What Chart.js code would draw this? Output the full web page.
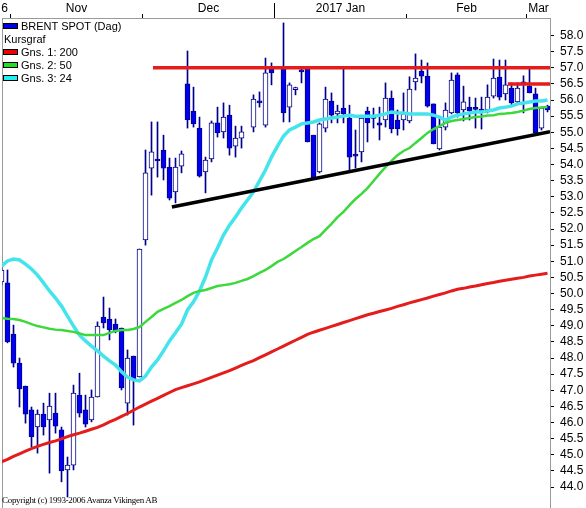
<!DOCTYPE html>
<html><head><meta charset="utf-8">
<script src="https://cdn.jsdelivr.net/npm/chart.js@4.4.1/dist/chart.umd.min.js"></script>
<style>
html,body{margin:0;padding:0;background:#fff;}
#wrap{position:relative;width:586px;height:508px;overflow:hidden;background:#fff;}
canvas{position:absolute;left:0;top:0;}
#legend{position:absolute;left:3px;top:19px;font:11px 'Liberation Sans',Arial,sans-serif;color:#000;}
.row{height:13px;display:flex;align-items:center;white-space:nowrap;}
.sw{width:13px;height:4px;border:1px solid #000;margin-right:3px;}
#copy{position:absolute;left:2px;top:495px;font:9px 'Liberation Serif','Times New Roman',serif;letter-spacing:-0.3px;color:#000;white-space:nowrap;}
</style></head><body>
<div id="wrap"><canvas id="c" width="586" height="508"></canvas>
<div id="legend">
<div class="row"><span class="sw" style="background:#0000e8"></span>BRENT SPOT (Dag)</div>
<div class="row" style="padding-left:1px">Kursgraf</div>
<div class="row"><span class="sw" style="background:#f00000"></span>Gns. 1: 200</div>
<div class="row"><span class="sw" style="background:#20e020"></span>Gns. 2: 50</div>
<div class="row"><span class="sw" style="background:#20f0f0"></span>Gns. 3: 24</div>
</div>
<div id="copy">Copyright (c) 1993-2006 Avanza Vikingen AB</div>
</div>
<script>
// daily candles, slot index 0..91 (null = no trading)
const open = [50.36,50.33,48.74,47.84,47.13,46.39,45.86,46.26,46.08,46.29,45.77,44.53,44.68,46.85,46.39,46.08,46.79,49.27,49.21,49.05,48.93,46.60,48.06,47.41,51.66,53.89,54.17,54.45,53.92,53.15,53.95,56.50,55.66,55.13,53.77,54.17,55.29,55.01,55.53,54.57,54.82,null,55.16,55.97,55.22,56.96,null,57.02,55.78,56.32,56.90,56.96,54.91,53.77,55.13,55.97,55.57,55.75,55.44,54.30,54.39,55.66,55.45,55.29,55.38,56.06,55.38,55.38,55.35,56.56,56.90,56.74,55.88,54.48,55.16,55.60,56.78,55.69,55.78,55.73,55.72,55.69,56.12,56.71,56.19,56.37,55.94,56.52,56.43,56.19,55.13,55.81];
const high = [50.88,50.73,49.02,48.00,47.13,46.48,46.39,46.60,46.91,46.91,45.86,44.93,47.16,47.53,46.85,47.01,49.12,49.89,49.55,49.21,48.93,48.25,48.06,51.38,54.45,55.32,55.32,54.91,54.20,54.20,54.42,57.52,56.40,55.47,54.23,55.35,55.78,55.91,55.84,55.19,55.19,null,56.16,56.25,57.30,57.15,null,58.39,56.53,56.40,56.96,56.96,54.91,55.29,56.40,56.22,55.84,56.96,55.84,55.07,55.53,55.78,55.75,55.78,56.53,56.28,55.69,56.22,56.72,57.43,57.24,57.15,55.88,55.44,55.91,56.84,56.84,56.43,56.09,56.06,56.09,56.47,57.27,57.24,57.24,56.53,56.53,56.75,57.02,56.37,55.78,55.84];
const low = [50.27,48.47,47.72,46.48,45.98,45.24,45.05,45.61,44.43,45.67,44.16,43.69,44.53,46.17,45.86,46.02,46.79,48.93,48.56,48.78,47.01,46.23,45.92,47.41,51.50,53.05,53.61,53.52,52.90,52.81,53.74,55.13,55.16,53.61,53.12,54.08,54.85,54.82,54.29,54.23,54.51,null,55.01,55.78,55.16,56.47,null,55.32,55.32,56.16,56.53,54.70,53.58,53.74,55.01,55.29,55.29,55.29,53.83,53.89,54.08,54.70,55.13,54.76,55.16,54.98,54.91,55.07,55.29,56.31,56.53,55.78,54.64,54.45,55.07,55.57,55.47,55.35,55.38,55.13,55.10,55.60,56.06,56.00,56.00,55.84,55.88,55.60,56.22,54.95,55.07,55.63];
const close = [50.73,48.50,47.84,47.04,46.26,45.55,46.26,45.86,46.51,45.89,44.50,44.68,46.91,46.29,45.95,46.79,48.99,49.09,48.87,48.84,47.07,48.00,47.32,51.38,53.74,54.39,54.11,53.89,52.96,53.92,54.33,55.38,55.26,53.64,54.14,55.29,54.98,55.47,54.51,54.82,55.01,null,56.03,55.91,56.84,56.84,null,55.60,56.47,56.35,56.87,54.70,53.58,55.26,56.03,55.53,55.66,55.57,54.23,54.26,55.44,55.29,55.43,55.22,56.06,55.10,55.10,55.57,56.34,56.68,56.74,55.81,54.64,55.16,55.69,56.62,55.60,55.94,55.66,55.71,55.66,56.09,56.68,56.09,56.47,55.91,56.37,56.50,56.22,54.98,55.75,55.69];

// moving averages
const gns200 = [44.78,44.86,44.95,45.03,45.11,45.19,45.26,45.32,45.38,45.43,45.49,45.56,45.62,45.67,45.73,45.79,45.85,45.93,46.02,46.10,46.19,46.28,46.38,46.48,46.57,46.66,46.75,46.84,46.93,47.02,47.08,47.14,47.20,47.26,47.33,47.40,47.47,47.54,47.61,47.69,47.77,47.85,47.92,48.01,48.10,48.19,48.28,48.37,48.46,48.55,48.64,48.73,48.80,48.86,48.92,48.98,49.04,49.10,49.16,49.22,49.28,49.34,49.39,49.44,49.49,49.54,49.60,49.65,49.71,49.76,49.81,49.86,49.92,49.97,50.02,50.08,50.13,50.16,50.20,50.23,50.27,50.31,50.34,50.38,50.41,50.44,50.47,50.50,50.54,50.57,50.60,50.63];
const gns50 = [49.24,49.22,49.21,49.18,49.12,49.05,48.99,48.95,48.91,48.88,48.87,48.84,48.81,48.76,48.71,48.71,48.71,48.71,48.78,48.84,48.87,48.87,48.90,48.96,49.12,49.27,49.43,49.52,49.61,49.71,49.80,49.92,50.02,50.08,50.11,50.17,50.23,50.26,50.29,50.33,50.39,50.45,50.54,50.64,50.73,50.85,50.98,51.07,51.19,51.32,51.44,51.57,51.69,51.78,51.97,52.16,52.37,52.53,52.74,52.93,53.09,53.27,53.49,53.71,53.92,54.11,54.29,54.42,54.51,54.67,54.82,54.98,55.10,55.19,55.29,55.35,55.38,55.41,55.44,55.47,55.49,55.52,55.53,55.57,55.58,55.60,55.63,55.67,55.72,55.75,55.77,55.78];
const gns24 = [50.85,51.01,51.07,51.04,50.91,50.76,50.57,50.33,50.08,49.86,49.61,49.30,48.99,48.71,48.53,48.37,48.22,48.06,47.91,47.78,47.57,47.41,47.32,47.29,47.44,47.72,47.94,48.22,48.53,48.78,49.05,49.49,49.74,50.08,50.51,51.04,51.41,51.81,52.12,52.37,52.65,52.90,53.15,53.49,53.83,54.23,54.57,54.88,55.07,55.16,55.26,55.29,55.32,55.38,55.41,55.44,55.47,55.50,55.53,55.50,55.50,55.50,55.50,55.53,55.57,55.63,55.60,55.60,55.57,55.57,55.57,55.57,55.53,55.47,55.38,55.47,55.53,55.57,55.60,55.63,55.63,55.66,55.69,55.75,55.78,55.81,55.88,55.91,55.94,55.97,55.97,56.00];

// drawn trend lines: [slot, price] endpoints
const resist57 = [[25.25,57.0],[91.42,57.0]];
const resist565 = [[84.4,56.5],[91.42,56.5]];
const supportLine = [[28.4,52.68],[91.42,55.02]];

// top axis: month labels and first slot of each month
const monthLabels = ['6','Nov','Dec','2017 Jan','Feb','Mar'];
const monthStart = [0,2,24,46,68,88];
const yearStartMonth = 3;
const yTickValues = [44.0,44.5,45.0,45.5,46.0,46.5,47.0,47.5,48.0,48.5,49.0,49.5,50.0,50.5,51.0,51.5,52.0,52.5,53.0,53.5,54.0,54.5,55.0,55.5,56.0,56.5,57.0,57.5,58.0];

const nSlots = open.length;
const X_MIN = 0.0833, X_MAX = nSlots - 0.5833;
const Y_MIN = 43.349, Y_MAX = 58.543;

const BLUE = '#0000ee', NAVY = '#00008c';
const idx = [...Array(nSlots).keys()].filter(i => open[i] !== null);
const wickData = idx.map(i => ({x: i, y: [low[i], high[i]]}));
const bodyData = idx.map(i => ({x: i, y: [open[i], close[i]]}));
const bodyFill = idx.map(i => close[i] >= open[i] ? '#ffffff' : BLUE);

// month tick objects
const xTicks = [];
for (let m = 1; m < monthStart.length; m++) xTicks.push({value: monthStart[m] - 0.5, b: true, label: ''});
for (let m = 0; m < monthStart.length; m++) {
  const a = monthStart[m];
  const e = m + 1 < monthStart.length ? monthStart[m+1] - 1 : nSlots - 1;
  xTicks.push({value: (a + e) / 2, b: false, text: monthLabels[m]});
}

const lineDs = (label, arr, color, w, order) => ({
  type: 'line', label, data: arr.map((v, i) => ({x: i, y: v})),
  borderColor: color, borderWidth: w, pointRadius: 0, tension: 0, order
});
const segDs = (label, pts, color, w) => ({
  type: 'line', label, data: pts.map(p => ({x: p[0], y: p[1]})),
  borderColor: color, borderWidth: w, pointRadius: 0, tension: 0, order: 0
});
const noPad = s => { s.paddingTop = 0; s.paddingBottom = 0; s.paddingLeft = 0; s.paddingRight = 0; };

Chart.defaults.font.family = "'Liberation Sans', Arial, sans-serif";
Chart.defaults.font.size = 12;
Chart.defaults.color = '#000';

new Chart(document.getElementById('c'), {
  type: 'bar',
  data: {
    datasets: [
      {label: 'wick', data: wickData, backgroundColor: NAVY, barThickness: 1, grouped: false, order: 3, borderWidth: 0},
      {label: 'BRENT SPOT (Dag)', data: bodyData, backgroundColor: bodyFill, borderColor: NAVY, borderWidth: 1,
       borderSkipped: false, barThickness: 5, grouped: false, minBarLength: 2, order: 2},
      lineDs('Gns. 1: 200', gns200, '#e41c1c', 3, 1),
      lineDs('Gns. 2: 50', gns50, '#3cd83c', 2.5, 1),
      lineDs('Gns. 3: 24', gns24, '#44e4ec', 3.5, 1),
      segDs('res57', resist57, '#e41c1c', 3.5),
      segDs('res565', resist565, '#e41c1c', 3.5),
      segDs('support', supportLine, '#000000', 3.5)
    ]
  },
  options: {
    responsive: false, animation: false, devicePixelRatio: 1,
    layout: {padding: 0},
    plugins: {legend: {display: false}, tooltip: {enabled: false}},
    scales: {
      x: {
        type: 'linear', position: 'top', min: X_MIN, max: X_MAX, offset: false, weight: 1,
        afterBuildTicks: s => { s.ticks = xTicks.map(t => Object.assign({}, t)); },
        afterFit: s => { s.height = 18; noPad(s); },
        ticks: {autoSkip: false, maxRotation: 0, padding: -2,
          callback: (v, i) => xTicks[i].b ? '' : xTicks[i].text},
        grid: {drawOnChartArea: false, drawTicks: true, tickLength: 4, offset: false,
          color: c => (c.tick && c.tick.b) ? '#000' : 'rgba(0,0,0,0)',
          tickColor: c => (c.tick && c.tick.b) ? '#000' : 'rgba(0,0,0,0)'},
        border: {display: true, color: '#9a9a9a'}
      },
      x2: {
        type: 'linear', position: 'top', min: X_MIN, max: X_MAX, offset: false, weight: 0,
        afterBuildTicks: s => { s.ticks = [{value: monthStart[yearStartMonth] - 0.5}]; },
        afterFit: s => { s.height = 0; noPad(s); },
        ticks: {callback: () => '', padding: 0},
        grid: {drawOnChartArea: false, drawTicks: true, tickLength: 15, color: '#000', offset: false},
        border: {display: false}
      },
      y: {
        type: 'linear', position: 'right', min: Y_MIN, max: Y_MAX,
        afterBuildTicks: s => { s.ticks = yTickValues.map(v => ({value: v})); },
        afterFit: s => { s.width = 36; noPad(s); },
        ticks: {padding: 6, callback: v => Number(v).toFixed(1), autoSkip: false},
        grid: {drawOnChartArea: false, drawTicks: true, tickLength: 4, tickColor: '#000'},
        border: {display: true, color: '#9a9a9a'}
      },
      yl: {
        type: 'linear', position: 'left', display: true,
        afterFit: s => { s.width = 2; noPad(s); },
        ticks: {display: false},
        grid: {drawOnChartArea: false, drawTicks: false},
        border: {display: true, color: '#9a9a9a'}
      }
    }
  }
});
</script>
</body></html>
